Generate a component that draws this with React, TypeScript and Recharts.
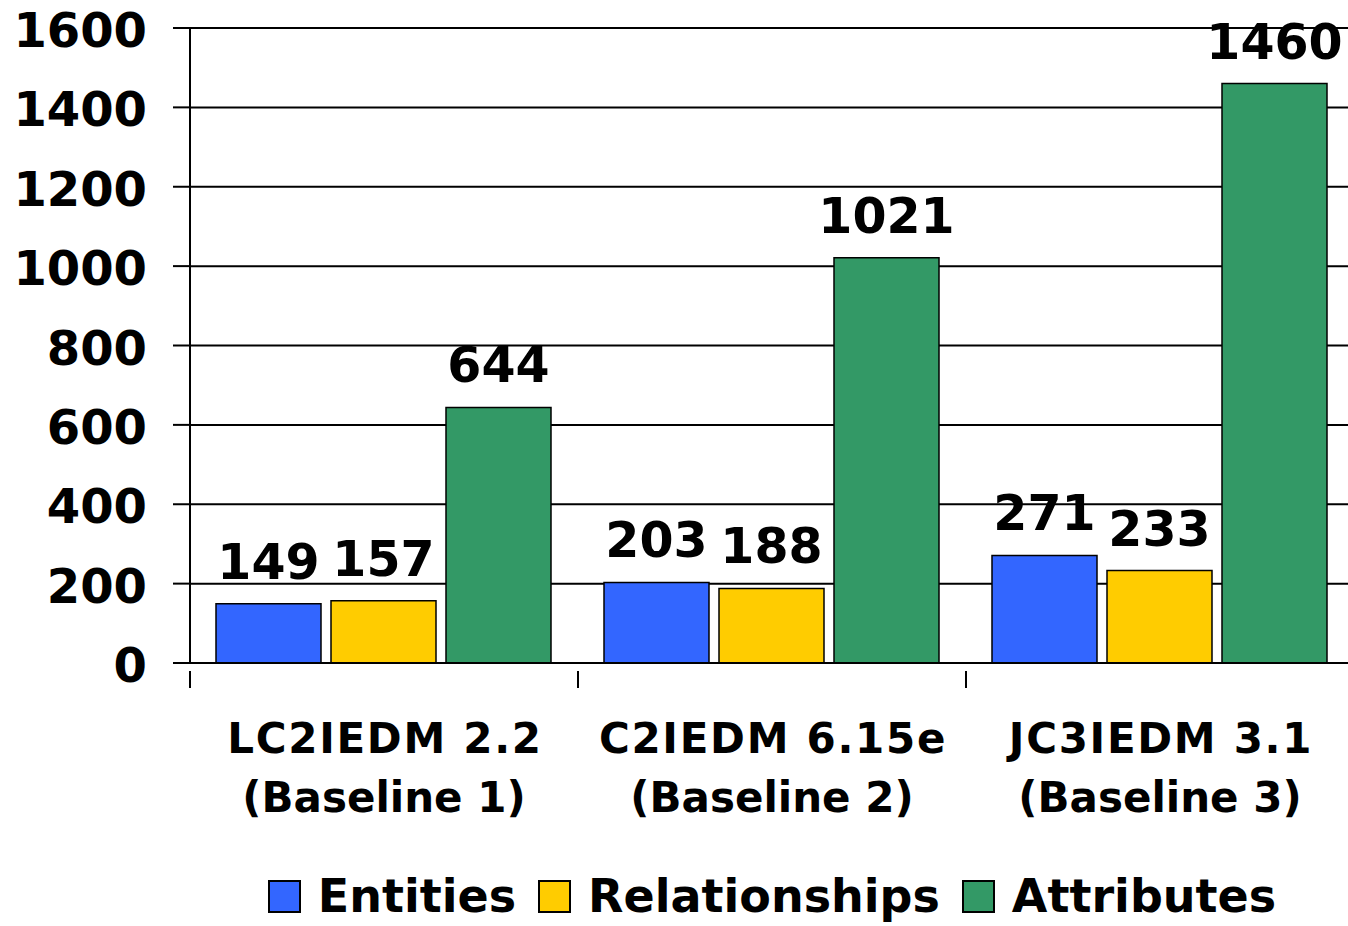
import { BarChart, Bar, XAxis, YAxis, CartesianGrid, Legend, LabelList } from "recharts";

const categories = ["LC2IEDM 2.2|(Baseline 1)", "C2IEDM 6.15e|(Baseline 2)", "JC3IEDM 3.1|(Baseline 3)"];
const entities = [149, 203, 271];
const relationships = [157, 188, 233];
const attributes = [644, 1021, 1460];
const yTicks = [0, 200, 400, 600, 800, 1000, 1200, 1400, 1600];

const SERIES = [
  { key: "entities", name: "Entities", color: "#3366FF" },
  { key: "relationships", name: "Relationships", color: "#FFCC00" },
  { key: "attributes", name: "Attributes", color: "#339966" },
];

const data = categories.map((c, i) => ({
  name: c,
  entities: entities[i],
  relationships: relationships[i],
  attributes: attributes[i],
}));

const FONT = "'DejaVu Sans', Verdana, sans-serif";
const W = 1354;
const H = 926;
const Y_W = 190;
const BAND = (W - Y_W) / categories.length;

function CategoryTick({ x, y, payload }: any) {
  const [l1, l2] = String(payload.value).split("|");
  return (
    <g>
      <line x1={x - BAND / 2} x2={x - BAND / 2} y1={y} y2={y + 17} stroke="#000" strokeWidth={2} />
      <line x1={x + BAND / 2} x2={x + BAND / 2} y1={y} y2={y + 17} stroke="#000" strokeWidth={2} />
      <text x={x + 1} y={753} textAnchor="middle" fontFamily={FONT} fontWeight="bold" fontSize={42} letterSpacing={1.7} fill="#000">
        {l1}
      </text>
      <text x={x} y={812} textAnchor="middle" fontFamily={FONT} fontWeight="bold" fontSize={42} fill="#000">
        {l2}
      </text>
    </g>
  );
}

function LegendContent() {
  return (
    <div style={{ display: "flex", justifyContent: "center", alignItems: "center", height: 60, fontFamily: FONT, fontWeight: "bold", fontSize: 46, paddingLeft: 22 }}>
      {SERIES.map((s) => (
        <div key={s.key} style={{ display: "flex", alignItems: "center", marginRight: 22 }}>
          <div style={{ width: 29, height: 29, background: s.color, border: "2px solid #000", marginRight: 17 }} />
          <span>{s.name}</span>
        </div>
      ))}
    </div>
  );
}

export default function App() {
  return (
    <div style={{ position: "fixed", left: 0, top: 0, width: 1348, height: H, overflow: "hidden", background: "#fff" }}>
      <BarChart width={W} height={H} data={data} margin={{ top: 28, right: 0, bottom: 0, left: 0 }} barCategoryGap={26} barGap={10}>
        <CartesianGrid vertical={false} stroke="#000" strokeWidth={2} />
        <XAxis
          dataKey="name"
          height={203}
          axisLine={{ stroke: "#000", strokeWidth: 2 }}
          tickLine={false}
          tick={<CategoryTick />}
          interval={0}
        />
        <YAxis
          width={Y_W}
          domain={[0, 1600]}
          ticks={yTicks}
          interval={0}
          axisLine={{ stroke: "#000", strokeWidth: 2 }}
          tickLine={{ stroke: "#000", strokeWidth: 2 }}
          tickSize={17}
          tickMargin={26}
          tick={{ fill: "#000", fontFamily: FONT, fontWeight: "bold", fontSize: 48, dy: 2 }}
        />
        <Legend
          verticalAlign="bottom"
          content={<LegendContent />}
          wrapperStyle={{ left: Y_W, width: W - Y_W, height: 60 }}
        />
        {SERIES.map((s) => (
          <Bar key={s.key} dataKey={s.key} name={s.name} fill={s.color} stroke="#000" strokeWidth={1.5} isAnimationActive={false}>
            <LabelList
              dataKey={s.key}
              position="top"
              offset={25}
              fill="#000"
              fontFamily={FONT}
              fontWeight="bold"
              fontSize={49}
            />
          </Bar>
        ))}
      </BarChart>
    </div>
  );
}
